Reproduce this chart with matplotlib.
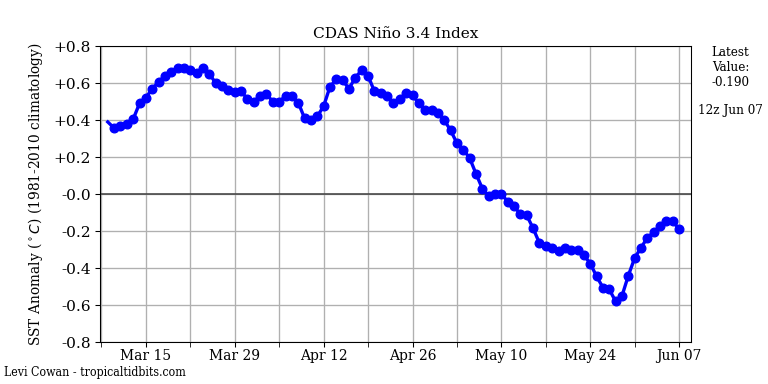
import matplotlib
matplotlib.use('Agg')
import matplotlib.pyplot as plt
import matplotlib.dates as mdates
import pandas as pd
import datetime as dt

# daily Nino 3.4 values, Mar 09 .. Jun 07
start = '2021-03-09'
end = '2021-06-07'
anom = [0.39,
        0.357, 0.37, 0.38, 0.405, 0.49, 0.52, 0.57, 0.605, 0.64, 0.66,
        0.68, 0.68, 0.67, 0.655, 0.68, 0.65, 0.60, 0.585, 0.56, 0.55,
        0.555, 0.515,
        0.50, 0.53, 0.54, 0.50, 0.50, 0.53, 0.53, 0.495, 0.41, 0.40,
        0.42, 0.475, 0.58, 0.62, 0.615, 0.57, 0.63, 0.67, 0.64, 0.555,
        0.545, 0.53, 0.49, 0.515, 0.545, 0.535, 0.49, 0.455, 0.455, 0.44,
        0.40, 0.345, 0.275, 0.24, 0.195, 0.11, 0.03, -0.01, 0.00, 0.00,
        -0.04, -0.065, -0.11, -0.115, -0.185, -0.265, -0.28, -0.29, -0.31, -0.29,
        -0.30, -0.30, -0.33, -0.375, -0.445, -0.505, -0.515, -0.58, -0.55, -0.44,
        -0.345,
        -0.29, -0.235, -0.205, -0.175, -0.145, -0.145, -0.19]
dates = pd.date_range(start, end, freq='D')

yticks = [0.8, 0.6, 0.4, 0.2, 0.0, -0.2, -0.4, -0.6, -0.8]
ytick_labels = ['+0.8', '+0.6', '+0.4', '+0.2', '-0.0', '-0.2', '-0.4', '-0.6', '-0.8']

plt.rcParams['font.family'] = 'DejaVu Serif'

fig = plt.figure(figsize=(8, 4), dpi=96)
ax = fig.add_axes([0.130, 0.109, 0.770, 0.771])

ax.plot(dates, anom, color='blue', lw=2.5, marker='o', ms=6.5,
        markevery=list(range(1, len(anom))), zorder=3)
ax.axhline(0, color='#444444', lw=1.2, zorder=2)

ax.set_ylim(-0.8, 0.8)
ax.set_yticks(yticks)
ax.set_yticklabels(ytick_labels)
ax.set_xlim(mdates.date2num(dt.datetime(2021, 3, 15)) - 7.25,
            mdates.date2num(dt.datetime(2021, 6, 7)) + 1.9)

# labelled ticks every two weeks, unlabelled ones in between
major = [dt.datetime(2021, 3, 15) + dt.timedelta(days=14 * i) for i in range(7)]
minor = [dt.datetime(2021, 3, 8) + dt.timedelta(days=14 * i) for i in range(7)]
ax.set_xticks(major)
ax.set_xticks(minor, minor=True)
ax.xaxis.set_major_formatter(mdates.DateFormatter('%b %d'))
ax.tick_params(axis='x', which='both', length=4, pad=1.5)
ax.grid(True, which='both', color='#b0b0b0', lw=1)

for lab in ax.get_xticklabels():
    lab.set_fontstretch('condensed')
    lab.set_fontsize(11.5)
for lab in ax.get_yticklabels():
    lab.set_fontsize(11.5)

ax.set_title('CDAS Niño 3.4 Index', fontsize=11.5)
ax.set_ylabel(r'SST Anomaly ($^\circ C$) (1981-2010 climatology)', fontsize=10.3,
              labelpad=6)

fig.text(0.951, 0.88, 'Latest\nValue:\n-0.190', ha='center', va='top', fontsize=9)
fig.text(0.951, 0.711, '12z Jun 07', ha='center', va='center', fontsize=9)
fig.text(0.005, 0.031, 'Levi Cowan - tropicaltidbits.com', ha='left', va='center',
         fontsize=9.2, fontstretch='condensed')

fig.savefig('out.png', dpi=96)
